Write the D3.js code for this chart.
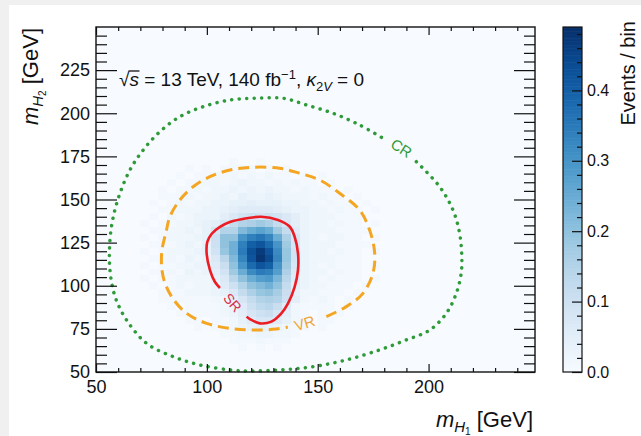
<!DOCTYPE html>
<html>
<head>
<meta charset="utf-8">
<script src="https://cdn.jsdelivr.net/npm/d3@7"></script>
<style>
  html, body { margin: 0; padding: 0; background: #f0f0f0; }
  svg { display: block; }
  text { font-family: "Liberation Sans", Arial, Helvetica, sans-serif; fill: #111; }
</style>
</head>
<body>
<svg id="chart" width="641" height="436"></svg>
<script>
// ---- axis ticks ----
const xMajorTicks = [50, 100, 150, 200];
const yMajorTicks = [50, 75, 100, 125, 150, 175, 200, 225];
const zMajorTicks = [0, 0.1, 0.2, 0.3, 0.4];

// ---- signal histogram (kappa_2V = 0) ----
// 4 GeV bins. Rows run from m_H2 = 174 GeV (top row) down to 58 GeV,
// columns from m_H1 = 62 GeV up to 190 GeV. Each character is the bin
// content in units of 0.01 events (index into contentCodes).
const binWidth = 4;
const firstBinMH1 = 62;
const topBinMH2 = 174;
const contentCodes = "0123456789abcdefghijklmnopqrstuvwxyzABCDEFGHIJKLMNOP";
const eventsPerBin = [
  "000000000" + "0000000000000" + "00000000000",
  "000000000" + "0001001000000" + "00000000000",
  "000000010" + "1011210101000" + "00000000000",
  "000000101" + "1212121211010" + "10000000000",
  "000001011" + "2212322121211" + "01000000000",
  "000010112" + "1223232322121" + "11010000000",
  "000011121" + "2232433432221" + "21101000000",
  "000101212" + "2334454443322" + "12110100000",
  "000011222" + "3345666654332" + "21211010000",
  "000102123" + "33579a9a97532" + "22111000000",
  "001011223" + "458cfgigc8532" + "21211010000",
  "000112232" + "48ffmprpic632" + "22111100000",
  "001012223" + "4akkuyAxpg832" + "12211010000",
  "000111232" + "4akoyEGCui832" + "22111100000",
  "001012223" + "49jozHLGwj932" + "21211010000",
  "000112132" + "37emxGMIxj932" + "22111000000",
  "001011223" + "36bkuCGEui832" + "12111010000",
  "000112132" + "359ipwzysg732" + "21211000000",
  "001011222" + "247ekpstne632" + "12111010000",
  "000101212" + "236afkmokc532" + "21110100000",
  "000011122" + "2347cgjkhb422" + "11101000000",
  "000011111" + "12258cfgfa521" + "21010000000",
  "000001011" + "11236adeb6211" + "11010000000",
  "000000111" + "112358ab85210" + "10100000000",
  "000000011" + "0112468864210" + "11000000000",
  "000000001" + "0112345432110" + "10000000000",
  "000000000" + "0011223322100" + "00000000000",
  "000000000" + "0001112111000" + "00000000000",
  "000000000" + "0000101010000" + "00000000000",
  "000000000" + "0000000000000" + "00000000000"
];

// ---- region boundaries, [m_H1, m_H2] in GeV ----
const srBoundary = [
  [105.9, 98.7], [103.6, 102.3], [101.4, 109.1], [99.9, 118.8], [100.2, 125.4],
  [102.1, 130.0], [105.9, 134.1], [110.4, 136.9], [117.9, 139.1], [124.6, 140.0],
  [132.1, 138.1], [137.4, 134.2], [139.6, 128.4], [141.1, 118.8], [141.1, 109.1],
  [139.6, 99.4], [136.6, 89.8], [133.6, 84.0], [129.1, 79.2], [123.9, 78.2],
  [119.4, 80.7], [117.9, 82.1]
];
const vrBoundary = [
  [153.9, 82.1], [162.9, 87.9], [170.4, 95.6], [174.9, 107.2], [175.7, 118.8],
  [173.4, 132.3], [168.9, 143.9], [159.9, 153.6], [150.9, 161.3], [141.9, 165.2],
  [132.9, 168.1], [120.9, 168.7], [110.4, 167.1], [101.4, 163.2], [93.8, 157.4],
  [87.8, 149.7], [83.3, 140.0], [81.8, 132.3], [79.6, 118.8], [80.3, 105.2],
  [84.1, 93.7], [90.9, 84.0], [99.9, 78.2], [110.4, 75.3], [120.9, 74.3],
  [131.4, 74.9], [136.5, 76.1]
];
const crBoundary = [
  [194.5, 171.9], [205.0, 157.4], [211.0, 143.9], [214.0, 130.4], [215.0, 116.8],
  [214.7, 107.2], [212.5, 95.6], [208.0, 84.0], [200.5, 74.3], [190.0, 68.6],
  [177.9, 62.8], [162.9, 57.0], [147.9, 53.1], [132.9, 51.2], [119.4, 50.6],
  [110.4, 51.2], [96.8, 54.1], [84.8, 58.9], [72.8, 66.6], [63.8, 80.1],
  [58.6, 93.7], [56.3, 109.1], [56.3, 126.5], [57.8, 140.0], [60.8, 153.6],
  [65.3, 167.1], [71.3, 178.7], [78.8, 189.3], [87.8, 198.0], [98.3, 203.8],
  [110.4, 207.7], [122.4, 208.7], [134.4, 208.7], [144.9, 204.8], [156.9, 200.0],
  [168.9, 193.2], [179.4, 185.5]
];
const regionNames = ["SR", "VR", "CR"];
const regionLabelPos = [[111.6, 90.3], [144.1, 78.4], [187.8, 179.9]];

// ---- layout ----
const svg = d3.select("#chart");
const frame = { left: 96, right: 535, top: 27, bottom: 372 };
const bar = { left: 563, right: 582 };
const zMax = 0.49;

const x = d3.scaleLinear().domain([50, 248]).range([frame.left, frame.right]);
const y = d3.scaleLinear().domain([50, 250]).range([frame.bottom, frame.top]);
const z = d3.scaleLinear().domain([0, zMax]).range([frame.bottom, frame.top]);
const color = d3.scaleSequential(d3.interpolateBlues).domain([0, zMax]);

// card
svg.append("rect").attr("x", 9).attr("y", 5).attr("width", 641).attr("height", 436).attr("fill", "#ffffff");

// plot area background (empty bins)
svg.append("rect")
  .attr("x", frame.left).attr("y", frame.top)
  .attr("width", frame.right - frame.left).attr("height", frame.bottom - frame.top)
  .attr("fill", color(0));

// histogram bins
const cells = [];
eventsPerBin.forEach((row, j) => {
  const lo = topBinMH2 - j * binWidth;
  Array.from(row).forEach((ch, i) => {
    const v = contentCodes.indexOf(ch) * 0.01;
    if (v > 0) cells.push({ m1: firstBinMH1 + i * binWidth, m2: lo, v });
  });
});
svg.append("g").selectAll("rect").data(cells).join("rect")
  .attr("x", d => x(d.m1))
  .attr("y", d => y(d.m2 + binWidth))
  .attr("width", d => x(d.m1 + binWidth) - x(d.m1))
  .attr("height", d => y(d.m2) - y(d.m2 + binWidth))
  .attr("fill", d => color(d.v))
  .attr("shape-rendering", "crispEdges");

// region boundaries
const line = d3.line().x(d => x(d[0])).y(d => y(d[1])).curve(d3.curveCatmullRom.alpha(0.5));
svg.append("path").attr("d", line(crBoundary)).attr("fill", "none")
  .attr("stroke", "#2e9a38").attr("stroke-width", 3.5)
  .attr("stroke-linecap", "round").attr("stroke-dasharray", "0.1 7.4");
svg.append("path").attr("d", line(vrBoundary)).attr("fill", "none")
  .attr("stroke", "#f4a623").attr("stroke-width", 3)
  .attr("stroke-dasharray", "11 6");
svg.append("path").attr("d", line(srBoundary)).attr("fill", "none")
  .attr("stroke", "#ec1c24").attr("stroke-width", 2.6);

const labelStyle = [
  { fill: "#d8304a", angle: 49, size: 14 },
  { fill: "#eea53a", angle: -17, size: 15 },
  { fill: "#2e9a38", angle: 33, size: 15 }
];
regionNames.forEach((name, k) => {
  const [m1, m2] = regionLabelPos[k];
  svg.append("text")
    .attr("transform", `translate(${x(m1)},${y(m2)}) rotate(${labelStyle[k].angle})`)
    .attr("text-anchor", "middle").attr("dominant-baseline", "central")
    .style("font-size", labelStyle[k].size + "px")
    .style("fill", labelStyle[k].fill)
    .text(name);
});

// ---- axes (ticks pointing into the frame on all four sides) ----
const xMinor = d3.range(60, 248, 10).filter(v => !xMajorTicks.includes(v));
const yMinor = d3.range(55, 250, 5).filter(v => !yMajorTicks.includes(v));

function styleAxis(g) {
  g.select(".domain").remove();
  g.selectAll(".tick line").attr("stroke", "#111").attr("stroke-width", 1.2);
  g.selectAll("text").style("font-size", "18px").style("font-family", '"Liberation Sans", Arial, sans-serif').attr("fill", "#111");
}

svg.append("g").attr("transform", `translate(0,${frame.bottom})`)
  .call(d3.axisBottom(x).tickValues(xMajorTicks).tickSize(-8).tickPadding(8).tickFormat(d3.format("d")))
  .call(styleAxis);
svg.append("g").attr("transform", `translate(0,${frame.bottom})`)
  .call(d3.axisBottom(x).tickValues(xMinor).tickSize(-4).tickFormat(""))
  .call(styleAxis);
svg.append("g").attr("transform", `translate(0,${frame.top})`)
  .call(d3.axisTop(x).tickValues(xMajorTicks).tickSize(-8).tickFormat(""))
  .call(styleAxis);
svg.append("g").attr("transform", `translate(0,${frame.top})`)
  .call(d3.axisTop(x).tickValues(xMinor).tickSize(-4).tickFormat(""))
  .call(styleAxis);

svg.append("g").attr("transform", `translate(${frame.left},0)`)
  .call(d3.axisLeft(y).tickValues(yMajorTicks).tickSize(-21).tickPadding(6).tickFormat(d3.format("d")))
  .call(styleAxis);
svg.append("g").attr("transform", `translate(${frame.left},0)`)
  .call(d3.axisLeft(y).tickValues(yMinor).tickSize(-11).tickFormat(""))
  .call(styleAxis);
svg.append("g").attr("transform", `translate(${frame.right},0)`)
  .call(d3.axisRight(y).tickValues(yMajorTicks).tickSize(-21).tickFormat(""))
  .call(styleAxis);
svg.append("g").attr("transform", `translate(${frame.right},0)`)
  .call(d3.axisRight(y).tickValues(yMinor).tickSize(-11).tickFormat(""))
  .call(styleAxis);

svg.append("rect")
  .attr("x", frame.left).attr("y", frame.top)
  .attr("width", frame.right - frame.left).attr("height", frame.bottom - frame.top)
  .attr("fill", "none").attr("stroke", "#111").attr("stroke-width", 1.4);

// ---- colour bar ----
const steps = d3.range(0, 245).map(i => i * zMax / 245);
svg.append("g").selectAll("rect").data(steps).join("rect")
  .attr("x", bar.left).attr("width", bar.right - bar.left)
  .attr("y", d => z(d + zMax / 245)).attr("height", d => z(d) - z(d + zMax / 245) + 0.6)
  .attr("fill", d => color(d + zMax / 490));
const zMinor = d3.range(0.02, zMax, 0.02).filter(v => Math.abs(v * 10 - Math.round(v * 10)) > 1e-6);
svg.append("g").attr("transform", `translate(${bar.right},0)`)
  .call(d3.axisRight(z).tickValues(zMajorTicks).tickSize(-10).tickPadding(5).tickFormat(d3.format(".1f")))
  .call(styleAxis)
  .call(g => g.selectAll("text").style("font-size", "16px"));
svg.append("g").attr("transform", `translate(${bar.right},0)`)
  .call(d3.axisRight(z).tickValues(zMinor).tickSize(-5).tickFormat(""))
  .call(styleAxis);
svg.append("rect")
  .attr("x", bar.left).attr("y", frame.top)
  .attr("width", bar.right - bar.left).attr("height", frame.bottom - frame.top)
  .attr("fill", "none").attr("stroke", "#111").attr("stroke-width", 1.2);

// ---- titles ----
const xTitle = svg.append("text").attr("x", 533).attr("y", 427)
  .attr("text-anchor", "end").style("font-size", "22px");
xTitle.append("tspan").style("font-style", "italic").text("m");
xTitle.append("tspan").attr("dy", 5).style("font-size", "15px").style("font-style", "italic").text("H");
xTitle.append("tspan").attr("dy", 3).style("font-size", "10px").text("1");
xTitle.append("tspan").attr("dy", -8).text(" [GeV]");

const yTitle = svg.append("text").attr("transform", "translate(38,28) rotate(-90)")
  .attr("text-anchor", "end").style("font-size", "22px");
yTitle.append("tspan").style("font-style", "italic").text("m");
yTitle.append("tspan").attr("dy", 5).style("font-size", "15px").style("font-style", "italic").text("H");
yTitle.append("tspan").attr("dy", 3).style("font-size", "10px").text("2");
yTitle.append("tspan").attr("dy", -8).text(" [GeV]");

svg.append("text").attr("transform", "translate(635,21) rotate(-90)")
  .attr("text-anchor", "end").style("font-size", "20px").text("Events / bin");

// ---- run information ----
const infoBase = 86;
const info = svg.append("text").attr("x", 119).attr("y", infoBase).style("font-size", "19px");
info.append("tspan").text("\u221A");
info.append("tspan").style("font-style", "italic").text("s");
info.append("tspan").text(" = 13 TeV, 140 fb");
info.append("tspan").attr("dy", -7).style("font-size", "13px").text("\u22121");
info.append("tspan").attr("dy", 7).text(", ");
info.append("tspan").style("font-style", "italic").text("\u03BA");
info.append("tspan").attr("dy", 5).style("font-size", "13px").text("2");
info.append("tspan").style("font-size", "13px").style("font-style", "italic").text("V");
info.append("tspan").attr("dy", -5).text(" = 0");
const infoNode = info.node();
const sStart = infoNode.getStartPositionOfChar(1).x;
const sEnd = infoNode.getEndPositionOfChar(1).x;
svg.append("line").attr("x1", sStart - 1).attr("x2", sEnd + 0.5)
  .attr("y1", infoBase - 15).attr("y2", infoBase - 15)
  .attr("stroke", "#111").attr("stroke-width", 1.3);
</script>
</body>
</html>
